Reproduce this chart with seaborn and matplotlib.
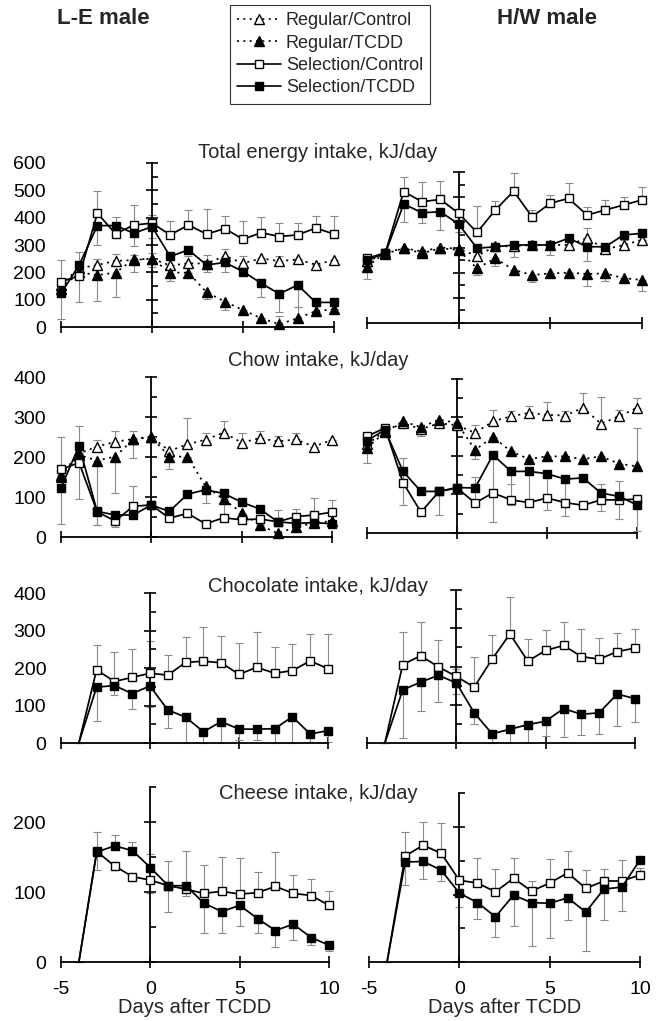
import numpy as np
import pandas as pd
import matplotlib
matplotlib.use("Agg")
import matplotlib.pyplot as plt
from matplotlib.lines import Line2D
from matplotlib.ticker import NullLocator
import seaborn as sns

sns.set_style("white")
plt.rcParams['font.family'] = ['Liberation Sans', 'DejaVu Sans']

nan = np.nan
days = list(range(-5, 11))
groups = ["Regular/Control", "Regular/TCDD", "Selection/Control", "Selection/TCDD"]

# ---- Total energy intake, L-E male ----
tot_le_rc = [155, 215, 227, 242, 245, 250, 225, 233, 232, 260, 233, 251, 241, 247, 228, 245]
tot_le_rt = [140, 200, 190, 199, 248, 249, 199, 199, 127, 93, 62, 32, 10, 32, 58, 65]
tot_le_sc = [166, 187, 416, 341, 373, 380, 337, 373, 340, 360, 321, 345, 331, 337, 362, 340]
tot_le_st = [123, 227, 371, 371, 343, 367, 258, 282, 227, 236, 203, 160, 121, 154, 90, 90]
tot_le_rc_err = [0, 0, 20, 25, 20, 20, 0, 25, 30, 25, 25, 0, 20, 0, 0, 0]
tot_le_rt_err = [0, 0, -95, -90, -45, -30, -30, 0, -25, -30, 0, 0, 30, 40, 40, 0]
tot_le_sc_err = [80, -94, 80, 0, 72, 30, 50, 55, 90, 45, 65, 57, 50, 43, 45, 65]
tot_le_st_err = [-95, 49, -70, 30, -45, -40, -43, 0, -24, -33, 0, -49, -65, -80, -15, 0]

# ---- Total energy intake, H/W male ----
tot_hw_rc = [245, 275, 297, 285, 300, 295, 266, 305, 305, 310, 310, 310, 337, 293, 310, 330]
tot_hw_rt = [224, 279, 297, 277, 297, 290, 217, 257, 211, 191, 197, 200, 195, 197, 178, 171]
tot_hw_sc = [257, 279, 522, 482, 491, 436, 360, 449, 524, 422, 476, 495, 429, 449, 469, 489]
tot_hw_st = [250, 277, 473, 438, 442, 393, 297, 303, 310, 310, 310, 337, 303, 303, 350, 356]
tot_hw_rc_err = [0, 0, 0, 0, 0, 0, 0, 0, 0, 0, 0, 0, 39, 0, 20, 0]
tot_hw_rt_err = [-50, 0, 0, -20, 0, 0, -25, -30, 0, -30, 0, 0, -47, -32, 0, -43]
tot_hw_sc_err = [0, 0, 59, 79, 73, 0, 105, 36, 73, 27, 33, 60, 33, 40, 33, 53]
tot_hw_st_err = [-20, 0, -73, -39, -71, -30, 0, 0, -49, -20, -40, 0, -55, 0, 0, 0]

# ---- Chow intake, L-E male ----
chow_le_rc = [155, 209, 226, 238, 245, 251, 215, 232, 243, 261, 236, 247, 239, 244, 226, 243]
chow_le_rt = [151, 205, 191, 201, 244, 250, 201, 201, 127, 94, 61, 30, 9, 25, 35, 40]
chow_le_sc = [169, 186, 63, 40, 77, 80, 47, 59, 33, 48, 43, 45, 38, 51, 55, 62]
chow_le_st = [123, 228, 64, 55, 55, 80, 64, 107, 118, 109, 87, 70, 38, 34, 36, 33]
chow_le_rc_err = [0, 0, 17, 28, 20, 0, 0, 65, 17, 29, 25, 19, 13, 17, 0, 0]
chow_le_rt_err = [0, 0, -160, -92, -47, 0, -32, 0, -43, -40, 0, 0, 0, 0, 0, 0]
chow_le_sc_err = [82, -92, -33, 0, 51, 0, 0, 0, 0, 0, 0, 0, 30, 20, 42, 30]
chow_le_st_err = [-91, 50, 0, -30, 0, 0, 0, 0, 0, 0, 0, 0, 0, 0, 0, 0]

# ---- Chow intake, H/W male ----
chow_hw_rc = [230, 265, 285, 270, 285, 280, 260, 290, 303, 312, 307, 305, 325, 284, 303, 325]
chow_hw_rt = [221, 262, 290, 275, 294, 286, 216, 249, 212, 192, 199, 199, 192, 199, 180, 173]
chow_hw_sc = [251, 273, 131, 54, 108, 117, 78, 104, 86, 79, 91, 79, 72, 86, 86, 88]
chow_hw_st = [240, 268, 160, 108, 108, 118, 117, 203, 160, 160, 154, 140, 143, 104, 95, 73]
chow_hw_rc_err = [0, 0, 0, 0, 0, 0, 21, 30, 14, 19, 33, 12, 39, 69, 17, 25]
chow_hw_rt_err = [-38, 0, -16, -22, 0, 0, -25, 0, 0, 0, 0, 0, 0, 0, 0, 100]
chow_hw_sc_err = [0, 0, 65, 0, 0, 0, 67, 0, 41, 0, 0, 0, 0, 41, 50, 0]
chow_hw_st_err = [0, 0, -87, 0, -62, 0, 0, -175, -87, -87, -94, -97, 0, -46, -58, -67]

# ---- Chocolate intake ----
choc_le_sc = [nan, 0, 195, 164, 175, 186, 181, 215, 218, 214, 183, 202, 186, 193, 219, 198]
choc_le_st = [nan, 0, 149, 153, 132, 152, 88, 69, 30, 57, 37, 37, 38, 70, 24, 33]
choc_le_sc_err = [0, 0, 66, 80, 77, 85, 55, 68, 92, 72, 84, 93, 71, 71, 73, 92]
choc_le_st_err = [0, 0, -90, -25, -40, -55, -49, -69, -30, -57, -29, -29, -38, -70, -20, -30]
choc_hw_sc = [nan, 0, 205, 228, 199, 174, 146, 219, 285, 214, 242, 255, 226, 219, 239, 248]
choc_hw_st = [nan, 0, 139, 159, 177, 157, 79, 24, 36, 48, 57, 90, 75, 79, 128, 116]
choc_hw_sc_err = [0, 0, 86, 88, 71, 20, 80, 64, 96, 58, 53, 61, 71, 56, 49, 51]
choc_hw_st_err = [0, 0, -127, -75, -69, -30, -29, -24, -36, -48, -40, -74, -54, -55, -83, -62]

# ---- Cheese intake ----
chee_le_sc = [nan, 0, 158, 137, 122, 117, 109, 104, 98, 101, 97, 99, 108, 98, 95, 81]
chee_le_st = [nan, 0, 157, 166, 159, 135, 109, 109, 84, 72, 81, 62, 45, 54, 35, 24]
chee_le_sc_err = [0, 0, -26, -5, 0, -18, -38, 54, 41, 49, 51, 30, 49, 26, 24, 20]
chee_le_st_err = [0, 0, 29, 15, 13, 20, 36, -15, -43, -31, -30, -20, -24, -22, -11, -8]
chee_hw_sc = [nan, 0, 157, 173, 161, 121, 117, 104, 124, 105, 117, 132, 109, 120, 120, 129]
chee_hw_st = [nan, 0, 148, 149, 136, 102, 88, 67, 99, 88, 87, 95, 74, 108, 111, 151]
chee_hw_sc_err = [0, 0, 36, 34, 45, 0, 37, 34, 30, 15, 36, 32, 28, 18, 31, 10]
chee_hw_st_err = [0, 0, -34, -26, -16, -20, -25, -30, -45, -64, -51, -33, -58, -46, -35, 0]

row_titles = ["Total energy intake, kJ/day", "Chow intake, kJ/day",
              "Chocolate intake, kJ/day", "Cheese intake, kJ/day"]
row_tops = [600, 400, 400, 250]
col_headers = ["L-E male", "H/W male"]
xticks = [-5, 0, 5, 10]
xlabel = "Days after TCDD"

STYLE = {
    "Regular/Control": dict(ls=(0, (1.2, 2.6)), marker="^", mfc="white", ms=7),
    "Regular/TCDD": dict(ls=(0, (1.2, 2.6)), marker="^", mfc="black", ms=7),
    "Selection/Control": dict(ls="-", marker="s", mfc="white", ms=6.3),
    "Selection/TCDD": dict(ls="-", marker="s", mfc="black", ms=6.3),
}

panels = [
    (0, 0, {"Regular/Control": (tot_le_rc, tot_le_rc_err), "Regular/TCDD": (tot_le_rt, tot_le_rt_err),
            "Selection/Control": (tot_le_sc, tot_le_sc_err), "Selection/TCDD": (tot_le_st, tot_le_st_err)}),
    (0, 1, {"Regular/Control": (tot_hw_rc, tot_hw_rc_err), "Regular/TCDD": (tot_hw_rt, tot_hw_rt_err),
            "Selection/Control": (tot_hw_sc, tot_hw_sc_err), "Selection/TCDD": (tot_hw_st, tot_hw_st_err)}),
    (1, 0, {"Regular/Control": (chow_le_rc, chow_le_rc_err), "Regular/TCDD": (chow_le_rt, chow_le_rt_err),
            "Selection/Control": (chow_le_sc, chow_le_sc_err), "Selection/TCDD": (chow_le_st, chow_le_st_err)}),
    (1, 1, {"Regular/Control": (chow_hw_rc, chow_hw_rc_err), "Regular/TCDD": (chow_hw_rt, chow_hw_rt_err),
            "Selection/Control": (chow_hw_sc, chow_hw_sc_err), "Selection/TCDD": (chow_hw_st, chow_hw_st_err)}),
    (2, 0, {"Selection/Control": (choc_le_sc, choc_le_sc_err), "Selection/TCDD": (choc_le_st, choc_le_st_err)}),
    (2, 1, {"Selection/Control": (choc_hw_sc, choc_hw_sc_err), "Selection/TCDD": (choc_hw_st, choc_hw_st_err)}),
    (3, 0, {"Selection/Control": (chee_le_sc, chee_le_sc_err), "Selection/TCDD": (chee_le_st, chee_le_st_err)}),
    (3, 1, {"Selection/Control": (chee_hw_sc, chee_hw_sc_err), "Selection/TCDD": (chee_hw_st, chee_hw_st_err)}),
]

# layout in pixels: (x of day -5, x of day 10), (y of value 0, y of top value)
W, H = 663, 1021
XGEOM = {(0, 0): (61, 334), (0, 1): (367, 642), (1, 0): (61, 332), (1, 1): (367, 637),
         (2, 0): (61, 328), (2, 1): (367, 635), (3, 0): (61, 329), (3, 1): (369, 640)}
YGEOM = {(0, 0): (327, 163, 600), (0, 1): (323, 172, 600), (1, 0): (537, 377, 400), (1, 1): (533, 379, 400),
         (2, 0): (743, 593, 400), (2, 1): (743, 590, 400), (3, 0): (962, 822, 200), (3, 1): (962, 827, 200)}

fig = plt.figure(figsize=(W / 100, H / 100), dpi=100)
XLO, XHI = -5.6, 10.6

for r, c, series in panels:
    xa, xb = XGEOM[(r, c)]
    sx = (xb - xa) / 15.0
    y0, yt, yv = YGEOM[(r, c)]
    sy = (y0 - yt) / yv
    top = row_tops[r]
    ylo, yhi = -0.06 * top, 1.05 * top
    left = xa + (XLO + 5) * sx
    right = xa + (XHI + 5) * sx
    bpx = y0 - ylo * sy
    tpx = y0 - yhi * sy
    ax = fig.add_axes([left / W, 1 - bpx / H, (right - left) / W, (bpx - tpx) / H])
    ax.patch.set_alpha(0)

    for g in groups:
        if g not in series:
            continue
        vals, errs = series[g]
        df = pd.DataFrame({"day": days, "value": vals, "err": errs}).dropna()
        st = STYLE[g]
        mask = [d >= -3 or r < 2 for d in df["day"]]
        lower = [max(-e, 0) for e in df["err"]]
        upper = [max(e, 0) for e in df["err"]]
        ax.errorbar(df["day"], df["value"], yerr=[lower, upper], fmt="none",
                    ecolor="#8a8a8a", elinewidth=0.8, capsize=3.2, capthick=0.8, zorder=1)
        sns.lineplot(data=df, x="day", y="value", ax=ax, color="black", lw=1.25,
                     linestyle=st["ls"], marker=st["marker"], markersize=st["ms"],
                     markerfacecolor=st["mfc"], markeredgecolor="black", markeredgewidth=1.0,
                     markevery=mask, estimator=None, sort=False, errorbar=None,
                     legend=False, zorder=3)

    ax.set_xlim(XLO, XHI)
    ax.set_ylim(ylo, yhi)
    ax.set_xlabel("")
    ax.set_ylabel("")
    for sp in ["left", "top"]:
        ax.spines[sp].set_visible(False)
    ax.spines["right"].set_position(("data", 0))
    ax.spines["right"].set_bounds(0, top)
    ax.spines["bottom"].set_position(("data", 0))
    ax.spines["bottom"].set_bounds(-5, 10)
    for sp in ["right", "bottom"]:
        ax.spines[sp].set_linewidth(1.3)
        ax.spines[sp].set_color("black")

    majors = list(range(0, top + 1, 100))
    minors = list(range(50, top + 1, 100))
    ax.set_yticks(majors)
    ax.set_yticks(minors, minor=True)
    ax.set_yticklabels([str(m) for m in majors])
    ax.tick_params(axis="y", which="major", left=False, right=True, labelleft=(c == 0),
                   labelright=False, direction="inout", length=9, width=1.2, pad=-1.5,
                   labelsize=14, colors="black")
    ax.tick_params(axis="y", which="minor", left=False, right=True, direction="out",
                   length=4.5, width=1.2, colors="black")
    ax.set_xticks(xticks)
    ax.xaxis.set_minor_locator(NullLocator())
    ax.tick_params(axis="x", which="major", bottom=True, top=False, labelbottom=(r == 3),
                   direction="inout", length=9, width=1.2, pad=9, labelsize=14, colors="black")
    if r == 3:
        ax.set_xticklabels([str(t) for t in xticks])
        ax.set_xlabel(xlabel, fontsize=14.5, labelpad=0.5)

# row titles
title_y = [152, 360, 586, 793]
for t, yy in zip(row_titles, title_y):
    fig.text(318 / W, 1 - yy / H, t, ha="center", va="center", fontsize=14.5)

# column headers
fig.text(103 / W, 1 - 18 / H, col_headers[0], ha="center", va="center", fontsize=16, fontweight="bold")
fig.text(547 / W, 1 - 18 / H, col_headers[1], ha="center", va="center", fontsize=16, fontweight="bold")

# legend
handles = [Line2D([], [], color="black", lw=1.2, linestyle=STYLE[g]["ls"], marker=STYLE[g]["marker"],
                  markersize=STYLE[g]["ms"] - 0.5, markerfacecolor=STYLE[g]["mfc"],
                  markeredgecolor="black", markeredgewidth=1.0) for g in groups]
leg = fig.legend(handles, groups, loc="upper left", bbox_to_anchor=(230 / W, 1 - 5 / H),
                 frameon=True, fancybox=False, edgecolor="black", fontsize=13,
                 handlelength=2.4, labelspacing=0.3, borderpad=0.4, handletextpad=0.3,
                 borderaxespad=0)
leg.get_frame().set_linewidth(0.8)

fig.savefig("out.png", dpi=100)
